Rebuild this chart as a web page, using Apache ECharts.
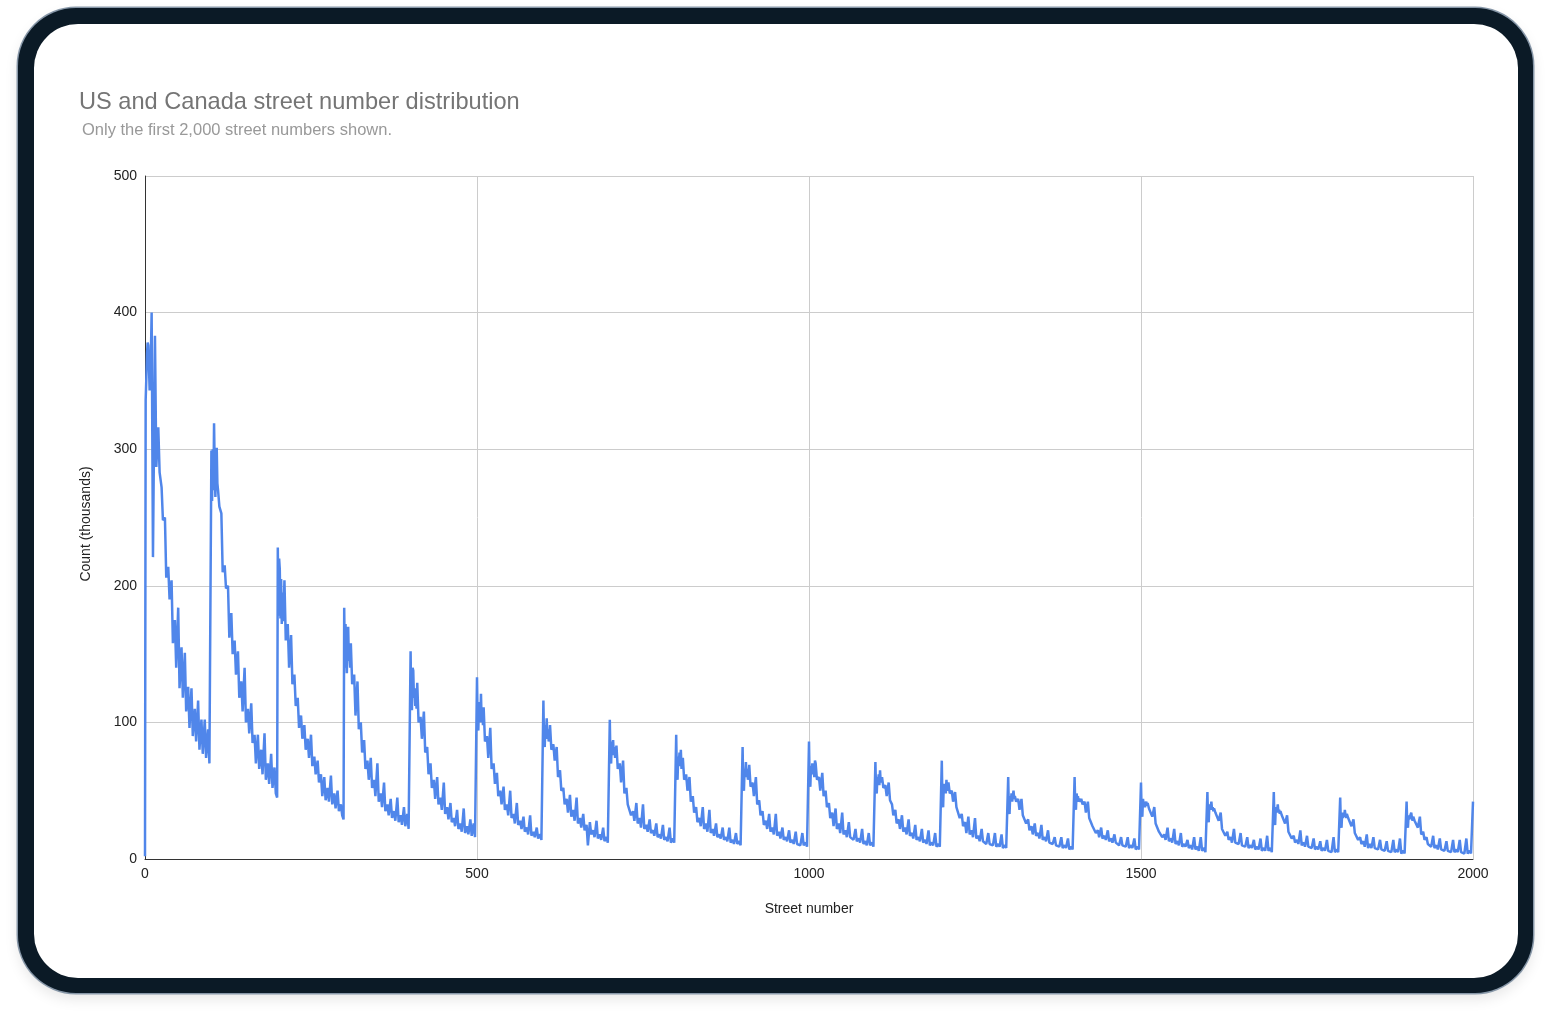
<!DOCTYPE html>
<html>
<head>
<meta charset="utf-8">
<script src="https://cdn.jsdelivr.net/npm/echarts@6/dist/echarts.min.js"></script>
<style>
  html, body { margin: 0; padding: 0; background: #ffffff; width: 1552px; height: 1022px; overflow: hidden; }
  #frame { position: absolute; left: 18px; top: 8px; width: 1515px; height: 985px; border-radius: 58px; background: #0b1a26;
           box-shadow: 0 0 0 1.5px #8797a8, 0 6px 14px rgba(0,0,0,0.10); }
  #screen { position: absolute; left: 34px; top: 24px; width: 1484px; height: 954px; border-radius: 44px; background: #ffffff; }
  #chart { position: absolute; left: 0; top: 0; width: 1552px; height: 1022px; }
</style>
</head>
<body>
<div id="frame"></div>
<div id="screen"></div>
<div id="chart"></div>
<script>
// Street number offset within each block of one hundred
const streetOffsets = [0,1,2,3,4,5,6,7,8,9,10,12,15,17,20,22,25,27,30,32,35,37,40,42,45,47,50,52,55,57,60,62,65,67,70,72,75,77,80,82,85,87,90,92,95,97,99];

// Counts (thousands), one row per hundred block (0-99, 100-199, ... 1900-1999)
const countsByHundred = [
  [2,336,352,370,378,376,360,343,355,372, 400,221,383,287, 316,283,272,248, 250,206,214,190, 204,158,175,140, 184,125,155,118, 151,108,126,96, 125,90,110,86, 116,80,102,77, 102,74,95,70, 70],
  [299,262,300,270,319,285,265,290,301,275, 270,258,253,210, 215,198,200,162, 180,150,160,135, 152,118,130,108, 140,100,110,92, 114,85,91,70, 91,66,80,62, 92,58,70,55, 77,52,67,48, 45],
  [228,178,220,212,176,205,172,195,174,185, 204,160,172,140, 164,128,135,112, 118,96,105,88, 98,80,88,74, 91,68,75,62, 72,56,62,46, 60,43,52,42, 61,40,48,37, 50,35,40,32, 29],
  [184,140,172,150,136,165,170,145,150,140, 158,128,135,105, 130,95,100,78, 87,66,72,58, 74,52,58,46, 70,42,48,38, 56,35,40,32, 44,30,35,28, 45,27,32,25, 38,24,33,22, 21],
  [152,112,109,140,138,118,125,112,120,110, 129,100,104,88, 108,78,82,62, 70,52,58,44, 60,40,45,36, 56,33,38,29, 41,27,30,24, 36,22,26,20, 37,19,24,18, 29,17,26,16, 15],
  [133,98,94,115,110,100,121,100,108,98, 111,86,90,74, 96,66,70,55, 63,46,50,40, 53,36,40,32, 50,30,33,26, 41,25,28,22, 31,20,23,18, 32,17,20,16, 23,15,18,14, 14],
  [116,84,82,98,92,103,88,95,86,90, 98,80,84,72, 82,60,65,50, 52,40,44,34, 47,31,36,28, 45,26,30,23, 33,21,25,10, 27,18,21,16, 28,15,18,14, 23,13,16,12, 12],
  [102,72,70,86,80,87,76,82,74,78, 83,66,70,56, 72,48,52,40, 41,32,35,28, 41,26,30,23, 40,22,25,20, 29,19,21,17, 26,16,18,15, 25,14,16,13, 23,12,15,12, 11],
  [91,60,58,75,70,78,68,80,66,70, 74,58,62,50, 60,42,46,34, 38,27,30,24, 38,22,26,20, 36,19,22,17, 26,16,18,15, 23,14,16,13, 23,12,14,11, 19,11,13,10, 10],
  [82,52,50,66,62,71,60,66,58,62, 69,53,56,46, 60,40,43,32, 35,25,28,22, 33,20,23,18, 33,17,20,15, 23,14,16,13, 21,12,14,11, 20,11,12,10, 19,10,12,9, 9],
  [86,55,53,68,64,70,62,66,60,72, 70,58,60,50, 63,46,50,38, 41,30,34,24, 37,22,26,19, 34,18,21,16, 27,16,17,14, 22,13,15,12, 22,11,13,10, 19,10,12,9, 9],
  [71,50,48,60,56,62,54,65,56,58, 60,52,54,46, 56,43,40,32, 36,26,29,22, 32,20,23,18, 29,17,19,15, 25,14,16,13, 22,12,14,11, 21,10,12,10, 19,9,11,9, 8],
  [72,40,38,55,50,54,48,58,50,52, 56,48,50,42, 49,38,38,30, 33,24,27,19, 31,18,21,16, 30,15,17,13, 22,13,14,11, 19,11,12,10, 19,9,11,9, 18,8,10,8, 8],
  [60,35,33,46,42,48,42,46,50,44, 46,42,44,36, 44,32,33,26, 29,21,24,18, 26,17,19,15, 25,14,16,13, 21,12,13,11, 16,10,11,9, 16,8,10,8, 15,7,9,7, 7],
  [60,38,36,48,44,46,42,44,45,42, 44,40,42,34, 42,30,29,24, 25,19,21,16, 23,15,17,14, 21,13,15,12, 18,12,13,10, 16,10,11,9, 16,8,10,8, 15,7,9,7, 7],
  [56,33,31,44,40,42,38,40,42,39, 41,37,38,31, 38,26,26,20, 21,16,18,14, 23,13,15,12, 22,11,13,10, 19,9,11,9, 14,8,10,7, 16,7,9,6, 16,6,8,5, 5],
  [49,29,27,40,36,38,42,36,38,35, 37,34,35,28, 34,22,22,17, 20,14,16,12, 22,12,13,11, 19,10,11,9, 16,8,10,8, 14,7,9,7, 15,6,8,6, 17,6,8,5, 5],
  [49,27,25,38,34,36,40,34,36,33, 35,32,33,26, 32,20,21,15, 17,12,14,11, 21,10,12,9, 17,9,10,8, 15,7,9,7, 13,6,8,6, 14,6,7,5, 16,5,7,5, 5],
  [45,25,23,34,30,33,31,36,32,30, 33,30,31,24, 29,19,20,14, 16,11,13,9, 18,8,11,8, 16,8,9,7, 14,7,8,6, 13,6,7,5, 14,5,7,5, 15,4,6,4, 4],
  [42,25,23,32,29,31,30,34,30,28, 31,28,29,23, 31,18,20,14, 16,11,12,9, 17,8,10,7, 15,7,8,6, 13,6,7,5, 14,5,7,5, 14,5,6,4, 15,4,6,4, 4]
];

// Count at street number 2000
const lastStreetNumber = 2000;
const lastCount = 42;

const xTicks = [0, 500, 1000, 1500, 2000];
const yTicks = [0, 100, 200, 300, 400, 500];

const points = [];
countsByHundred.forEach(function (row, b) {
  row.forEach(function (v, i) { points.push([b * 100 + streetOffsets[i], v]); });
});
points.push([lastStreetNumber, lastCount]);

const chart = echarts.init(document.getElementById('chart'), null, { renderer: 'canvas' });
const font = '"Liberation Sans", Arial, sans-serif';
chart.setOption({
  animation: false,
  backgroundColor: 'transparent',
  title: [
    { text: 'US and Canada street number distribution', left: 79, top: 90, padding: 0,
      textStyle: { fontFamily: font, fontSize: 23.6, fontWeight: 'normal', color: '#757575' } },
    { text: 'Only the first 2,000 street numbers shown.', left: 82, top: 122, padding: 0,
      textStyle: { fontFamily: font, fontSize: 16.5, fontWeight: 'normal', color: '#999999' } }
  ],
  graphic: [{
    type: 'text', x: 86, y: 524, rotation: Math.PI / 2, silent: true,
    style: { text: 'Count (thousands)', fontFamily: font, fontSize: 14, fill: '#222222',
             textAlign: 'center', textVerticalAlign: 'middle' }
  }],
  grid: { left: 145, top: 176, right: 79, bottom: 163, containLabel: false },
  xAxis: {
    type: 'value', min: xTicks[0], max: xTicks[xTicks.length - 1], interval: 500,
    name: 'Street number', nameLocation: 'middle', nameGap: 43,
    nameTextStyle: { fontFamily: font, fontSize: 14, color: '#222222' },
    axisLine: { show: true, onZero: false, lineStyle: { color: '#333333', width: 1 } },
    axisTick: { show: false },
    axisLabel: { fontFamily: font, fontSize: 14, color: '#222222', margin: 8,
                 formatter: function (v) { return String(v); } },
    splitLine: { show: true, lineStyle: { color: '#cccccc', width: 1 } }
  },
  yAxis: {
    type: 'value', min: yTicks[0], max: yTicks[yTicks.length - 1], interval: 100,
    axisLine: { show: true, lineStyle: { color: '#333333', width: 1 } },
    axisTick: { show: false },
    axisLabel: { fontFamily: font, fontSize: 14, color: '#222222', margin: 8,
                 formatter: function (v) { return String(v); } },
    splitLine: { show: true, lineStyle: { color: '#cccccc', width: 1 } }
  },
  series: [{
    type: 'line', data: points, showSymbol: false, symbol: 'none', sampling: null,
    lineStyle: { color: '#5086ea', width: 2.5 }, z: 3
  }]
});
</script>
</body>
</html>
